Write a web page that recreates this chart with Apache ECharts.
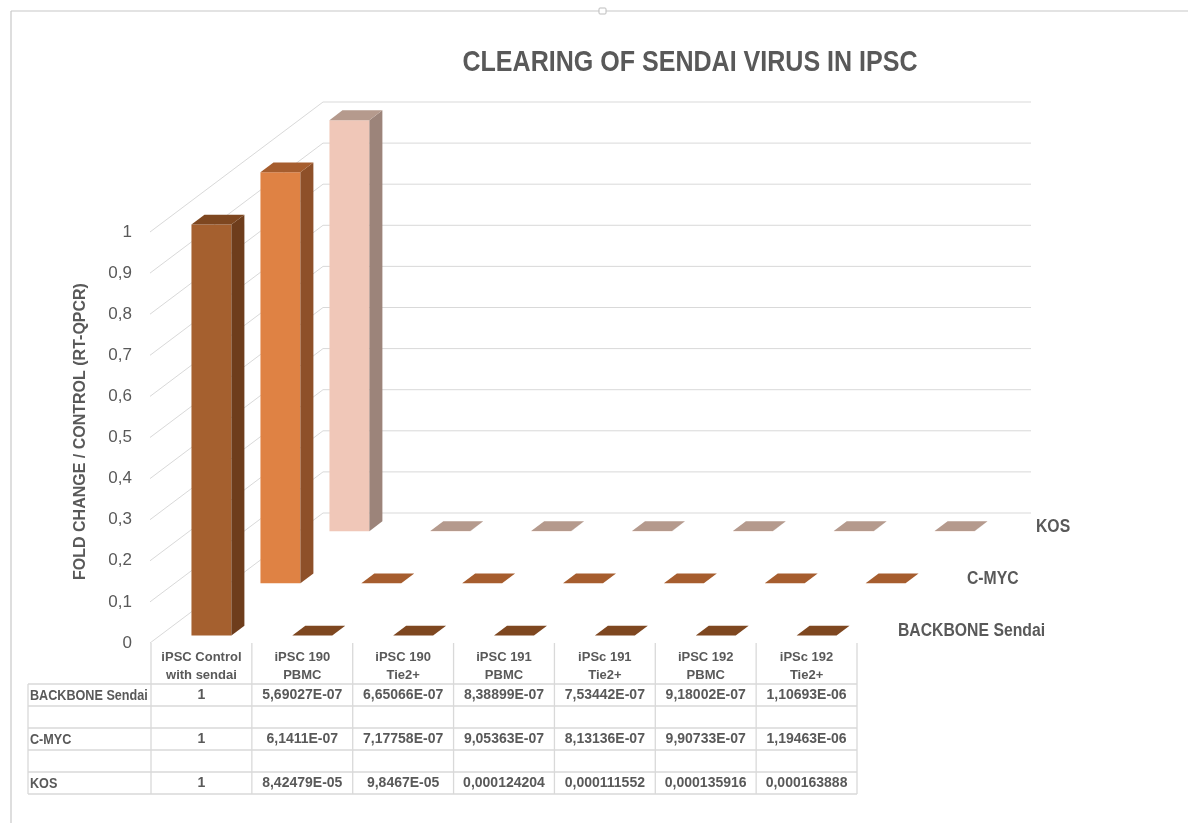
<!DOCTYPE html>
<html>
<head>
<meta charset="utf-8">
<script src="https://cdn.jsdelivr.net/npm/echarts@6/dist/echarts.min.js"></script>
<style>
  html, body { margin: 0; padding: 0; background: #ffffff; }
  #chart { width: 1188px; height: 823px; }
</style>
</head>
<body>
<div id="chart"></div>
<script>
// ---------------- data ----------------
const categories = [
  'iPSC Control\nwith sendai',
  'iPSC 190\nPBMC',
  'iPSC 190\nTie2+',
  'iPSC 191\nPBMC',
  'iPSc 191\nTie2+',
  'iPSC 192\nPBMC',
  'iPSc 192\nTie2+'
];
const seriesNames = ['BACKBONE Sendai', 'C-MYC', 'KOS'];
const backbone = [1, 5.69027e-7, 6.65066e-7, 8.38899e-7, 7.53442e-7, 9.18002e-7, 1.10693e-6];
const cmyc     = [1, 6.1411e-7, 7.17758e-7, 9.05363e-7, 8.13136e-7, 9.90733e-7, 1.19463e-6];
const kos      = [1, 8.42479e-5, 9.8467e-5, 0.000124204, 0.000111552, 0.000135916, 0.000163888];
const yTicks   = [0, 0.1, 0.2, 0.3, 0.4, 0.5, 0.6, 0.7, 0.8, 0.9, 1];
const titleText = 'CLEARING OF SENDAI VIRUS IN IPSC';
const yAxisName = 'FOLD CHANGE / CONTROL (RT-QPCR)';

// ---------------- styles ----------------
const TXT = '#595959';
const GRIDC = '#d9d9d9';
const FONT = '"Liberation Sans", Arial, sans-serif';
const faces = [
  { front: '#a5602f', side: '#6e3d1c', top: '#7e4720' },  // BACKBONE
  { front: '#df8244', side: '#8e5029', top: '#a65d2e' },  // C-MYC
  { front: '#f0c7b8', side: '#9c847a', top: '#b59a8d' }   // KOS
];
const DX = 172, DY = -130;          // full depth of the 3D box
const BAR_DX = 13, BAR_DY = -9.8;   // depth of one bar
function depthOffset(i) { const dx = 10 + 69 * i; return [dx, dx * DY / DX]; }

function fmt(v) {
  if (v === 1) return '1';
  if (v < 1e-4) {
    const parts = v.toExponential().split('e');
    const n = parseInt(parts[1], 10);
    return parts[0].replace('.', ',') + 'E' + (n < 0 ? '-' : '+') + String(Math.abs(n)).padStart(2, '0');
  }
  return String(v).replace('.', ',');
}

function barRenderer(depthIdx) {
  const c = faces[depthIdx];
  const off = depthOffset(depthIdx);
  return function (params, api) {
    const i = api.value(0), v = api.value(1);
    const base = api.coord([i, 0]);
    const top = api.coord([i, v]);
    const bw = api.size([1, 0])[0] * 0.396;
    const xl = base[0] - bw / 2 + off[0], xr = xl + bw;
    const yb = base[1] + off[1], yt = top[1] + off[1];
    return {
      type: 'group',
      children: [
        { type: 'rect', shape: { x: xl, y: yt, width: bw, height: Math.max(0, yb - yt) }, style: { fill: c.front } },
        { type: 'polygon', shape: { points: [[xr, yt], [xr + BAR_DX, yt + BAR_DY], [xr + BAR_DX, yb + BAR_DY], [xr, yb]] }, style: { fill: c.side } },
        { type: 'polygon', shape: { points: [[xl, yt], [xr, yt], [xr + BAR_DX, yt + BAR_DY], [xl + BAR_DX, yt + BAR_DY]] }, style: { fill: c.top } }
      ]
    };
  };
}

const seriesData = [backbone, cmyc, kos];

const series = [];
// walls (side + back gridlines)
series.push({
  type: 'custom', name: 'walls', silent: true, z: 1,
  data: yTicks.map(v => [0, v]),
  renderItem: function (params, api) {
    const p = api.coord([0, api.value(1)]);
    const x0 = params.coordSys.x, x1 = params.coordSys.x + params.coordSys.width;
    return {
      type: 'polyline',
      shape: { points: [[x0 - 1, p[1]], [x0 + DX, p[1] + DY], [x1 + DX + 2, p[1] + DY]] },
      style: { stroke: GRIDC, lineWidth: 1, fill: null }
    };
  }
});
// bars from back to front
for (let d = 2; d >= 0; d--) {
  series.push({
    type: 'custom', name: seriesNames[d], silent: true, z: 5 + (2 - d),
    data: seriesData[d].map((v, i) => [i, v]),
    renderItem: barRenderer(d)
  });
}
// depth-axis labels
series.push({
  type: 'custom', name: 'depthLabels', silent: true, z: 10,
  data: seriesNames.map(() => [categories.length - 1, 0]),
  renderItem: function (params, api) {
    const i = params.dataIndex;
    const off = depthOffset(i);
    const base = api.coord([api.value(0), 0]);
    const x1 = params.coordSys.x + params.coordSys.width;
    return {
      type: 'text',
      x: x1 + 31 + off[0], y: base[1] + off[1] - 4.5, scaleX: 0.875,
      style: {
        text: seriesNames[i], x: 0, y: 0,
        verticalAlign: 'middle', align: 'left', fill: TXT,
        font: 'bold 18px ' + FONT
      }
    };
  }
});

const chart = echarts.init(document.getElementById('chart'), null, { renderer: 'canvas' });
chart.setOption({
  backgroundColor: '#ffffff',
  animation: false,
  grid: { left: 151, top: 232, width: 706, height: 411 },
  xAxis: {
    type: 'category', data: categories,
    axisLine: { show: false }, axisTick: { show: false }, splitLine: { show: false },
    axisLabel: { show: true, interval: 0, margin: 5, color: TXT, fontSize: 13, fontWeight: 'bold', fontFamily: FONT, lineHeight: 18 }
  },
  yAxis: {
    type: 'value', min: 0, max: 1, interval: 0.1,
    axisLine: { show: false }, axisTick: { show: false }, splitLine: { show: false },
    axisLabel: { margin: 19, color: TXT, fontSize: 17, fontFamily: FONT,
      formatter: v => String(+v.toFixed(1)).replace('.', ',') },
    name: yAxisName, nameLocation: 'middle', nameRotate: 90, nameGap: 62,
    nameTextStyle: { color: TXT, fontSize: 16, fontWeight: 'bold', fontFamily: FONT, padding: [0, 0, 0, 12] }
  },
  series: series
});

// ---------------- data table (positions from the category axis) ----------------
const centers = categories.map((c, i) => chart.convertToPixel({ xAxisIndex: 0 }, i));
const band = centers.length > 1 ? centers[1] - centers[0] : 100;
const colEdges = centers.map(c => c - band / 2).concat([centers[centers.length - 1] + band / 2]);
const tableLeft = 28;
const zeroY = chart.convertToPixel({ yAxisIndex: 0 }, 0);
const rowTop = 684, rowH = 22;
const tableRows = [
  { label: seriesNames[0], values: backbone },
  null,
  { label: seriesNames[1], values: cmyc },
  null,
  { label: seriesNames[2], values: kos }
];
const tableBottom = rowTop + rowH * tableRows.length;
const g = [];
// title
g.push({ type: 'text', x: 690, y: 63, scaleX: 0.835, z: 20,
  style: { text: titleText, x: 0, y: 0, align: 'center', verticalAlign: 'middle', fill: TXT, font: 'bold 30px ' + FONT } });
// frame
g.push({ type: 'line', shape: { x1: 11, y1: 11, x2: 1188, y2: 11 }, style: { stroke: '#c8c8c8', lineWidth: 1.2 } });
g.push({ type: 'line', shape: { x1: 11, y1: 11, x2: 11, y2: 823 }, style: { stroke: '#c8c8c8', lineWidth: 1.2 } });
g.push({ type: 'rect', shape: { x: 599, y: 8, width: 7, height: 6, r: 1 }, style: { fill: '#ffffff', stroke: '#bdbdbd', lineWidth: 1 } });
// horizontal table lines
for (let r = 0; r <= tableRows.length; r++) {
  const y = rowTop + r * rowH;
  g.push({ type: 'line', shape: { x1: tableLeft, y1: y, x2: colEdges[colEdges.length - 1], y2: y }, style: { stroke: GRIDC, lineWidth: 1.3 } });
}
// vertical table lines
g.push({ type: 'line', shape: { x1: tableLeft, y1: rowTop, x2: tableLeft, y2: tableBottom }, style: { stroke: GRIDC, lineWidth: 1.3 } });
colEdges.forEach(x => {
  g.push({ type: 'line', shape: { x1: x, y1: zeroY, x2: x, y2: tableBottom }, style: { stroke: GRIDC, lineWidth: 1.3 } });
});
// cell texts
tableRows.forEach((row, r) => {
  if (!row) return;
  const yc = rowTop + r * rowH + rowH / 2 + 0.5;
  g.push({ type: 'text', x: tableLeft + 2, y: yc, scaleX: 0.87,
    style: { text: row.label, x: 0, y: 0, align: 'left', verticalAlign: 'middle', fill: TXT, font: 'bold 14.5px ' + FONT } });
  row.values.forEach((v, i) => {
    g.push({ type: 'text', style: { text: fmt(v), x: centers[i], y: yc, align: 'center', verticalAlign: 'middle', fill: TXT,
      font: 'bold 14px ' + FONT } });
  });
});
chart.setOption({ graphic: { elements: g } });
</script>
</body>
</html>
